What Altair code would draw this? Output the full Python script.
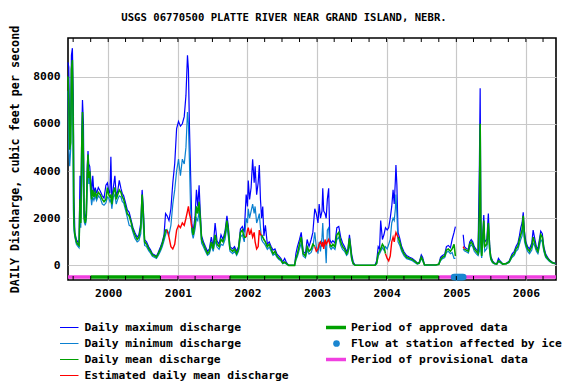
import altair as alt
import pandas as pd

TITLE = "USGS 06770500 PLATTE RIVER NEAR GRAND ISLAND, NEBR."
Y_TITLE = "DAILY Discharge, cubic feet per second"
y_ticks = [0, 2000, 4000, 6000, 8000]

dates = [
    # 1999
    "1999-06-04", "1999-06-08", "1999-06-13", "1999-06-18", "1999-06-22", "1999-06-27", "1999-07-02", "1999-07-05",
    "1999-07-10", "1999-07-18", "1999-07-25", "1999-08-01", "1999-08-06", "1999-08-10", "1999-08-15", "1999-08-19",
    "1999-08-24", "1999-08-28", "1999-09-03", "1999-09-08", "1999-09-13", "1999-09-17", "1999-09-21", "1999-09-26",
    "1999-10-01", "1999-10-06", "1999-10-12", "1999-10-18", "1999-10-25", "1999-11-01", "1999-11-10", "1999-11-20",
    "1999-12-01", "1999-12-10", "1999-12-20", "1999-12-28",
    # 2000
    "2000-01-04", "2000-01-10", "2000-01-15", "2000-01-20", "2000-01-28", "2000-02-05", "2000-02-12", "2000-02-20",
    "2000-02-28", "2000-03-08", "2000-03-15", "2000-03-22", "2000-04-01", "2000-04-10", "2000-04-20", "2000-05-01",
    "2000-05-10", "2000-05-20", "2000-06-01", "2000-06-10", "2000-06-20", "2000-06-27", "2000-07-03", "2000-07-10",
    "2000-07-20", "2000-08-01", "2000-08-10", "2000-08-20", "2000-09-01", "2000-09-10", "2000-09-20", "2000-10-01",
    "2000-10-10", "2000-10-20", "2000-10-28", "2000-11-05", "2000-11-15", "2000-11-25", "2000-12-05", "2000-12-15",
    "2000-12-25",
    # 2001
    "2001-01-04", "2001-01-14", "2001-01-24", "2001-02-03", "2001-02-12", "2001-02-20", "2001-02-25", "2001-03-02",
    "2001-03-08", "2001-03-15", "2001-03-22", "2001-04-01", "2001-04-08", "2001-04-15", "2001-04-22", "2001-04-28",
    "2001-05-05", "2001-05-15", "2001-05-25", "2001-06-05", "2001-06-15", "2001-06-25", "2001-07-05", "2001-07-15",
    "2001-07-25", "2001-08-05", "2001-08-15", "2001-08-25", "2001-09-05", "2001-09-15", "2001-09-22", "2001-10-01",
    "2001-10-15", "2001-10-25", "2001-11-05", "2001-11-15", "2001-11-25", "2001-12-05", "2001-12-15", "2001-12-25",
    # 2002
    "2002-01-01", "2002-01-05", "2002-01-12", "2002-01-20", "2002-01-28", "2002-02-05", "2002-02-10", "2002-02-18",
    "2002-02-26", "2002-03-04", "2002-03-10", "2002-03-16", "2002-03-22", "2002-03-28", "2002-04-05", "2002-04-15",
    "2002-04-25", "2002-05-05", "2002-05-15", "2002-05-25", "2002-06-05", "2002-06-15", "2002-06-25", "2002-07-05",
    "2002-07-15", "2002-07-25", "2002-08-05", "2002-08-20", "2002-09-05", "2002-09-12", "2002-09-20", "2002-10-01",
    "2002-10-10", "2002-10-20", "2002-11-01", "2002-11-10", "2002-11-20", "2002-12-01", "2002-12-10", "2002-12-20",
    "2002-12-28",
    # 2003
    "2003-01-06", "2003-01-12", "2003-01-19", "2003-01-27", "2003-01-31", "2003-02-05", "2003-02-12", "2003-02-18",
    "2003-02-24", "2003-03-03", "2003-03-09", "2003-03-16", "2003-03-25", "2003-04-05", "2003-04-15", "2003-04-25",
    "2003-05-05", "2003-05-15", "2003-05-25", "2003-06-05", "2003-06-12", "2003-06-20", "2003-07-02", "2003-07-10",
    "2003-07-20", "2003-08-15", "2003-09-15", "2003-10-10", "2003-11-01", "2003-11-10", "2003-11-18", "2003-11-25",
    "2003-12-01", "2003-12-10", "2003-12-18", "2003-12-26",
    # 2004
    "2004-01-04", "2004-01-12", "2004-01-20", "2004-01-28", "2004-02-04", "2004-02-10", "2004-02-16", "2004-02-19",
    "2004-02-24", "2004-03-01", "2004-03-10", "2004-03-20", "2004-04-01", "2004-04-15", "2004-05-01", "2004-05-15",
    "2004-06-01", "2004-06-10", "2004-06-20", "2004-07-01", "2004-07-08", "2004-07-18", "2004-08-15", "2004-09-15",
    "2004-10-01", "2004-10-10", "2004-10-20", "2004-11-01", "2004-11-10", "2004-11-20", "2004-12-01", "2004-12-10",
    "2004-12-20", "2004-12-27",
    # 2005
    "2005-02-06", "2005-02-12", "2005-02-22", "2005-03-05", "2005-03-12", "2005-03-20", "2005-03-28", "2005-04-05",
    "2005-04-15", "2005-04-25", "2005-05-02", "2005-05-06", "2005-05-10", "2005-05-14", "2005-05-20", "2005-05-25",
    "2005-05-30", "2005-06-10", "2005-06-18", "2005-06-25", "2005-07-01", "2005-07-10", "2005-07-20", "2005-08-01",
    "2005-08-10", "2005-08-20", "2005-09-01", "2005-09-20", "2005-10-05", "2005-10-20", "2005-11-01", "2005-11-10",
    "2005-11-20", "2005-11-28", "2005-12-05", "2005-12-12", "2005-12-18", "2005-12-25",
    # 2006
    "2006-01-01", "2006-01-10", "2006-01-20", "2006-02-01", "2006-02-08", "2006-02-15", "2006-02-25", "2006-03-05",
    "2006-03-12", "2006-03-20", "2006-03-28", "2006-04-05", "2006-04-15", "2006-04-25", "2006-05-05", "2006-05-20",
    "2006-06-05",
]

mean_q = [
    8000, 7000, 4900, 5200, 8300, 8700, 5500, 1800, 1300, 1000, 900, 850, 2800, 1800, 5000, 6500, 4500, 2000,
    1800, 2100, 3900, 4700, 3700, 4000, 3400, 2800, 3200, 2900, 3100, 2900, 3100, 3000, 2800, 2700, 2800, 3300,
    3000, 2900, 3000, 2600, 3100, 3300, 2800, 3000, 3200, 3100, 2900, 2800, 2500, 2200, 2100, 1800, 1500, 1300,
    1100, 1200, 1600, 3000, 2200, 1000, 900, 700, 600, 450, 400, 350, 500, 700, 900, 1200, 1500, 1500, 1200, 800,
    700, 900, 1500,
    1700, 1600, 1800, 1700, 2000, 2300, 2500, 2200, 2000, 1600, 1300, 1800, 2500, 2200, 2700, 2000, 1100, 900,
    700, 500, 600, 1000, 700, 1300, 900, 800, 1100, 1000, 1300, 1900, 1500, 700, 600, 700, 500, 700, 1400, 1500,
    1200, 1200,
    1500, 1600, 1300, 1500, 1200, 1400, 1000, 700, 800, 1500, 1300, 1300, 1200, 1100, 1000, 800, 900, 700, 500,
    600, 400, 300, 250, 100, 150, 80, 5, 5, 5, 300, 500, 900, 1200, 500, 400, 800, 600, 700, 900, 800, 600,
    700, 900, 1000, 800, 1000, 700, 1100, 900, 1000, 1100, 900, 800, 900, 800, 1300, 1400, 1000, 800, 700, 500,
    600, 1150, 300, 80, 10, 10, 10, 10, 10, 100, 500, 600, 700, 900, 800, 500,
    300, 200, 400, 1000, 1200, 1000, 1300, 1400, 1300, 1200, 1000, 700, 500, 350, 300, 250, 150, 80, 100, 350,
    250, 20, 20, 20, 50, 250, 350, 400, 650, 700, 600, 700, 900, 400,
    800, 700, 650, 600, 900, 1000, 900, 700, 600, 500, 2300, 6000, 1000, 400, 1200, 1900, 800, 900, 1800, 700,
    300, 150, 80, 60, 200, 150, 60, 80, 150, 400, 500, 700, 800, 1100, 1300, 1500, 2100, 1200,
    900, 700, 600, 800, 1200, 1000, 700, 600, 900, 1300, 1200, 700, 400, 300, 200, 120, 80,
]

max_q = [
    8600, 8400, 5400, 6000, 8900, 9200, 7000, 3000, 1400, 1100, 1000, 950, 3800, 2000, 5600, 7000, 6000, 2200,
    2000, 2300, 4200, 4850, 4300, 4200, 3700, 3000, 3800, 3050, 3300, 3050, 3300, 3150, 2950, 2850, 3400, 3500,
    3150, 3050, 4600, 2750, 3300, 3800, 2950, 3150, 3600, 3250, 3050, 2950, 2650, 2350, 2250, 1900, 1600, 1400,
    1200, 1300, 1800, 3200, 2500, 1100, 1000, 780, 660, 500, 440, 390, 560, 780, 980, 1300, 2200, 2100, 1900, 2400,
    3500, 4300, 5800,
    6100, 5900, 6000, 6300, 7200, 8900, 8300, 6000, 4000, 1750, 1450, 2100, 3200, 2500, 3400, 2300, 1250, 1000,
    800, 600, 700, 1200, 800, 1800, 1050, 900, 1300, 1100, 1450, 2100, 1700, 800, 700, 800, 600, 800, 1550, 1650,
    1400, 3000,
    2500, 3600, 2800, 3300, 4500, 3500, 4200, 3000, 3500, 4250, 2800, 2000, 2500, 1250, 1700, 900, 1000, 800, 650,
    700, 480, 400, 300, 150, 300, 120, 5, 5, 5, 500, 800, 1100, 1400, 600, 500, 1100, 800, 1100, 1400, 2400, 2200,
    1800, 2600, 2000, 2300, 3270, 2300, 2200, 2000, 2800, 3270, 1100, 950, 1050, 950, 1600, 1650, 1200, 950, 800, 600,
    700, 1300, 450, 150, 10, 10, 10, 10, 10, 200, 800, 700, 1900, 1100, 1300, 1600,
    1500, 1600, 2000, 2500, 3200, 2600, 3600, 4250, 3400, 1400, 1150, 800, 580, 420, 350, 300, 180, 100, 130, 450,
    350, 25, 20, 20, 60, 350, 420, 480, 800, 850, 750, 1100, 1400, 1650,
    1300, 800, 720, 680, 1000, 1100, 1000, 800, 680, 600, 4250, 7500, 2000, 500, 1400, 2140, 1000, 1100, 2200, 850,
    380, 200, 100, 75, 300, 180, 75, 95, 180, 480, 600, 800, 950, 1250, 1600, 1800, 2250, 1400,
    1000, 800, 700, 950, 1500, 1200, 800, 700, 1050, 1450, 1350, 800, 480, 350, 230, 140, 90,
]

min_q = [
    7400, 5000, 4200, 4900, 7500, 8300, 2400, 1500, 1200, 900, 820, 750, 2300, 1600, 3500, 6000, 2800, 1850,
    1700, 1950, 3300, 4400, 3450, 3700, 3000, 2550, 2900, 2750, 2950, 2750, 2950, 2850, 2600, 2550, 2650, 2900,
    2850, 2700, 2800, 2400, 2900, 3000, 2600, 2800, 2950, 2900, 2700, 2650, 2350, 2050, 1700, 1650, 1400, 1150,
    1000, 1050, 1350, 2600, 1700, 850, 800, 620, 520, 390, 340, 300, 420, 600, 780, 1050, 1300, 1500, 1300, 1700,
    2600, 3200, 4000,
    4500, 3800, 4500, 4300, 5000, 6500, 6000, 4500, 2500, 1400, 1150, 1550, 2000, 1900, 2300, 1700, 950, 780,
    600, 430, 500, 850, 600, 1050, 780, 680, 900, 850, 1100, 1650, 1250, 600, 500, 600, 430, 600, 1200, 1300,
    1000, 2000,
    1800, 2400, 2000, 2300, 2600, 2200, 2500, 1800, 2000, 2200, 1600, 1100, 1000, 950, 850, 680, 780, 600, 430,
    500, 340, 250, 200, 70, 110, 50, 5, 5, 5, 230, 380, 700, 950, 400, 320, 650, 480, 550, 750, 1400, 800,
    500, 1000, 600, 1200, 1800, 800, 1000, 100, 1500, 1600, 780, 680, 780, 680, 1100, 1200, 850, 680, 600, 430,
    500, 950, 230, 50, 10, 10, 10, 10, 10, 70, 400, 500, 600, 750, 650, 800,
    700, 900, 1100, 1800, 2000, 1900, 2400, 3000, 2200, 1000, 850, 600, 420, 290, 250, 200, 110, 60, 80, 280,
    200, 15, 20, 20, 40, 200, 290, 340, 550, 600, 500, 550, 300, 300,
    700, 620, 580, 530, 780, 880, 800, 600, 500, 420, 600, 2500, 600, 320, 950, 1400, 600, 720, 1500, 550,
    240, 110, 65, 50, 150, 120, 50, 65, 120, 340, 430, 600, 680, 900, 1100, 1250, 1700, 1000,
    780, 600, 500, 650, 950, 850, 600, 500, 750, 1100, 1000, 600, 340, 250, 170, 100, 65,
]

# periods where the daily mean is estimated (red)
est_start = ["2000-11-01", "2001-12-22", "2002-12-18", "2003-12-22", "2004-12-24"]
est_end = ["2001-03-10", "2002-03-12", "2003-03-05", "2004-02-26", "2005-02-08"]
# gap in record (ice)
gap_start = ["2004-12-28"]
gap_end = ["2005-02-05"]

# data-status periods along the bottom
period_start = ["1999-06-04", "1999-10-01", "2000-10-01", "2001-10-01", "2004-10-01"]
period_end = ["1999-10-01", "2000-10-01", "2001-10-01", "2004-10-01", "2006-06-08"]
period_kind = ["Provisional", "Approved", "Provisional", "Approved", "Provisional"]

# days flagged as ice-affected
ice_dates = ["2004-12-20", "2004-12-26", "2005-01-01", "2005-01-07", "2005-01-13", "2005-01-19",
             "2005-01-25", "2005-01-31", "2005-02-06"]

assert len(dates) == len(mean_q) == len(max_q) == len(min_q)

C_MAX = "#0000FF"
C_MIN = "#0A80D0"
C_MEAN = "#00A000"
C_EST = "#FF0000"
C_PINK = "#F040E0"
C_ICE = "#1A86D0"
FONT = "DejaVu Sans Mono"

df = pd.DataFrame({"date": pd.to_datetime(dates), "mean": mean_q, "max": max_q, "min": min_q})
df = df.sort_values("date").reset_index(drop=True)

est_flag = pd.Series(False, index=df.index)
for s, e in zip(est_start, est_end):
    est_flag |= (df["date"] >= pd.Timestamp(s)) & (df["date"] <= pd.Timestamp(e))
df["q"] = est_flag.map({True: "E", False: "A"})
part = pd.Series(0, index=df.index)
for e in gap_end:
    part += (df["date"] > pd.Timestamp(e)).astype(int)
df["part"] = part

env = df[["date", "max", "min", "part"]].copy()

rows = []
run = 0
prev = None
for i in range(len(df)):
    r = df.iloc[i]
    key = (r["q"], r["part"])
    if key != prev:
        run += 1
    prev = key
    rows.append({"date": r["date"], "v": r["mean"], "q": r["q"], "run": run})
    if i + 1 < len(df):
        n = df.iloc[i + 1]
        if n["part"] == r["part"] and n["q"] != r["q"]:
            rows.append({"date": n["date"], "v": n["mean"], "q": r["q"], "run": run})
mean_df = pd.DataFrame(rows)

periods = pd.DataFrame({"start": pd.to_datetime(period_start), "end": pd.to_datetime(period_end),
                        "kind": period_kind})
ice = pd.DataFrame({"date": pd.to_datetime(ice_dates)})
minor = pd.DataFrame({"date": pd.date_range("1999-07-01", "2006-04-01", freq="QS")})

W, H = 488, 242

x_scale = alt.Scale(domain=[alt.DateTime(year=1999, month=6, date=4), alt.DateTime(year=2006, month=6, date=8)])
y_scale = alt.Scale(domain=[-614, 9630], nice=False, zero=False)

X_AX = alt.Axis(format="%Y", tickCount="year", grid=True, gridColor="#C8C8C8", gridWidth=1.2,
                ticks=False, tickSize=0, domain=False, labelPadding=7, title=None,
                labelFont=FONT, labelFontSize=11.3, labelFontWeight="bold", labelColor="black",
                labelFlush=False, labelOverlap=False)
Y_AX = alt.Axis(values=y_ticks, format="d", grid=True, gridColor="#C8C8C8", gridWidth=1.2,
                ticks=False, tickSize=0, domain=False, labelPadding=8, title=Y_TITLE,
                labelFont=FONT, labelFontSize=11.3, labelFontWeight="bold", labelColor="black",
                titleFont=FONT, titleFontSize=11.7, titleFontWeight="bold", titleColor="black",
                titleX=-54, titleY=H / 2, titleAngle=270, titleAlign="center", titleBaseline="middle")

X = alt.X("date:T", scale=x_scale, axis=X_AX)

max_line = alt.Chart(env).mark_line(color=C_MAX, strokeWidth=1.2).encode(
    x=X, y=alt.Y("max:Q", scale=y_scale, axis=Y_AX), detail="part:N")
min_line = alt.Chart(env).mark_line(color=C_MIN, strokeWidth=1.2).encode(
    x=X, y=alt.Y("min:Q", scale=y_scale, axis=Y_AX), detail="part:N")
mean_line = alt.Chart(mean_df).transform_filter(alt.datum.q == "A").mark_line(
    color=C_MEAN, strokeWidth=1.6).encode(
    x=X, y=alt.Y("v:Q", scale=y_scale, axis=Y_AX), detail="run:N")
est_line = alt.Chart(mean_df).transform_filter(alt.datum.q == "E").mark_line(
    color=C_EST, strokeWidth=1.4).encode(
    x=X, y=alt.Y("v:Q", scale=y_scale, axis=Y_AX), detail="run:N")

bars = alt.Chart(periods).mark_rule(strokeWidth=3.5).encode(
    x=alt.X("start:T", scale=x_scale, axis=X_AX), x2="end:T", y=alt.value(H - 3),
    color=alt.Color("kind:N", scale=alt.Scale(domain=["Approved", "Provisional"], range=[C_MEAN, C_PINK]),
                    legend=None))
ice_pts = alt.Chart(ice).mark_circle(size=45, opacity=1, color=C_ICE).encode(
    x=alt.X("date:T", scale=x_scale, axis=X_AX), y=alt.value(H - 3))

ticks_bottom = alt.Chart(minor).mark_rule(color="black", strokeWidth=1).encode(
    x=alt.X("date:T", scale=x_scale, axis=X_AX), y=alt.value(H - 4), y2=alt.value(H))
ticks_top = alt.Chart(minor).mark_rule(color="black", strokeWidth=1).encode(
    x=alt.X("date:T", scale=x_scale, axis=X_AX), y=alt.value(0), y2=alt.value(4))

title_mark = alt.Chart(pd.DataFrame({"t": [TITLE]})).mark_text(
    align="center", baseline="middle", font=FONT, fontSize=10.6, fontWeight="bold", color="black").encode(
    x=alt.value(216), y=alt.value(-20), text="t:N")

one = pd.DataFrame({"a": [0]})
legend_layers = []
left_items = [("Daily maximum discharge", C_MAX), ("Daily minimum discharge", C_MIN),
              ("Daily mean discharge", C_MEAN), ("Estimated daily mean discharge", C_EST)]
for i, (lab, col) in enumerate(left_items):
    yy = 289.5 + 16 * i
    legend_layers.append(alt.Chart(one).mark_rule(color=col, strokeWidth=1).encode(
        x=alt.value(-8), x2=alt.value(10.5), y=alt.value(yy)))
    legend_layers.append(alt.Chart(pd.DataFrame({"t": [lab]})).mark_text(
        align="left", baseline="middle", font=FONT, fontSize=11.3, fontWeight="bold", color="black").encode(
        x=alt.value(16.5), y=alt.value(yy), text="t:N"))
right_items = [("Period of approved data", C_MEAN, "bar"), ("Flow at station affected by ice", C_ICE, "dot"),
               ("Period of provisional data", C_PINK, "bar")]
for i, (lab, col, kind) in enumerate(right_items):
    yy = 289.5 + 16 * i
    if kind == "bar":
        legend_layers.append(alt.Chart(one).mark_rule(color=col, strokeWidth=3.5).encode(
            x=alt.value(258), x2=alt.value(278), y=alt.value(yy)))
    else:
        legend_layers.append(alt.Chart(one).mark_circle(color=col, size=45, opacity=1).encode(
            x=alt.value(268.5), y=alt.value(yy)))
    legend_layers.append(alt.Chart(pd.DataFrame({"t": [lab]})).mark_text(
        align="left", baseline="middle", font=FONT, fontSize=11.3, fontWeight="bold", color="black").encode(
        x=alt.value(283), y=alt.value(yy), text="t:N"))

chart = alt.layer(max_line, min_line, mean_line, est_line, bars, ice_pts, ticks_bottom, ticks_top,
                  title_mark, *legend_layers).properties(
    width=W, height=H,
    padding={"left": 60, "top": 30, "right": 12, "bottom": 104},
    autosize=alt.AutoSizeParams(type="none"),
).configure_view(stroke="black", strokeWidth=1.6)

chart.save("out.html", embed_options={"renderer": "svg", "actions": False})
